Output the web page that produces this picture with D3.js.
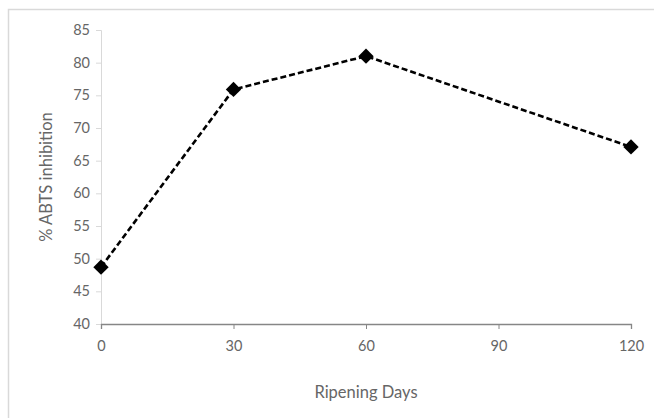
<!DOCTYPE html>
<html><head><meta charset="utf-8">
<script src="https://cdn.jsdelivr.net/npm/d3@7"></script>
<style>body{margin:0;background:#fff}svg{display:block}</style>
</head><body>
<script>
const days = [0, 30, 60, 120];
const inhibition = [48.7, 75.9, 81.0, 67.1];
const xTicks = [0, 30, 60, 90, 120];
const yTicks = [40, 45, 50, 55, 60, 65, 70, 75, 80, 85];
const xTitle = "Ripening Days";
const yTitle = "% ABTS inhibition";

const W = 654, H = 418;
const svg = d3.select("body").append("svg").attr("width", W).attr("height", H);
svg.append("rect").attr("x", 8.5).attr("y", 9.5).attr("width", 660).attr("height", 420)
  .attr("fill", "#fff").attr("stroke", "#d9d9d9").attr("stroke-width", 1.5);

const x = d3.scaleLinear().domain([0, 120]).range([101, 631]);
const y = d3.scaleLinear().domain([40, 85]).range([324, 30]);
const font = "Lato, 'Open Sans', sans-serif";
const tc = "#666666";

const ya = svg.append("g").attr("transform", "translate(101,0)")
  .call(d3.axisLeft(y).tickValues(yTicks).tickSize(5).tickPadding(6));
ya.select(".domain").attr("stroke", "#d9d9d9");
ya.selectAll(".tick line").attr("stroke", "#d9d9d9");
ya.selectAll("text").attr("fill", tc).style("font-family", font).style("font-size", "14.5px");

const xa = svg.append("g").attr("transform", "translate(0,324)")
  .call(d3.axisBottom(x).tickValues(xTicks).tickSize(5).tickSizeOuter(5).tickPadding(12));
xa.select(".domain").attr("stroke", "#868686").attr("stroke-width", 1.3);
xa.selectAll(".tick line").attr("stroke", "#868686");
xa.selectAll("text").attr("fill", tc).style("font-family", font).style("font-size", "14.5px");

svg.append("text").attr("x", 366).attr("y", 398).attr("text-anchor", "middle")
  .attr("fill", tc).style("font-family", font).style("font-size", "16.5px").text(xTitle);
svg.append("text").attr("transform", "translate(52,177) rotate(-90)").attr("text-anchor", "middle")
  .attr("fill", tc).style("font-family", font).style("font-size", "16.5px").text(yTitle);

const pts = days.map((d, i) => [d, inhibition[i]]);
svg.append("path").datum(pts)
  .attr("d", d3.line().x(d => x(d[0])).y(d => y(d[1])))
  .attr("fill", "none").attr("stroke", "#000").attr("stroke-width", 2.6).attr("stroke-dasharray", "6,3");

svg.selectAll(".pt").data(pts).enter().append("path")
  .attr("transform", d => `translate(${x(d[0])},${y(d[1])})`)
  .attr("d", d3.symbol(d3.symbolDiamond2, 150)).attr("fill", "#000");
</script>
</body></html>
